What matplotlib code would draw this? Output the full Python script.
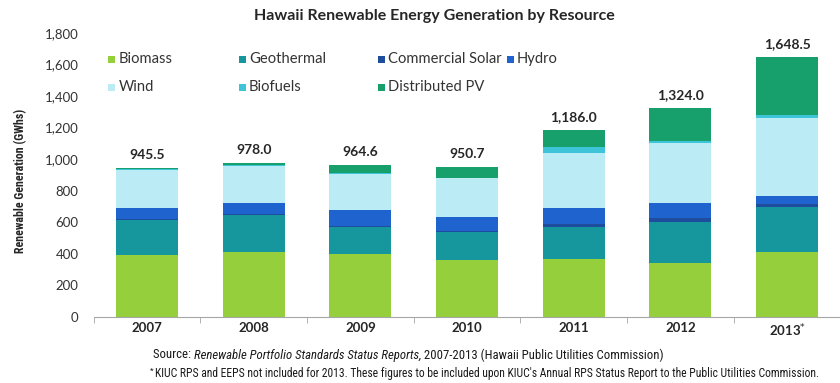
import numpy as np
import matplotlib
matplotlib.use("Agg")
import matplotlib.pyplot as plt
from matplotlib import font_manager

# GWh by resource, stacked bottom to top
years = ["2007", "2008", "2009", "2010", "2011", "2012", "2013$^{*}$"]
biomass = [390, 411, 397, 359, 363, 342, 412]
geothermal = [223, 233, 173, 179, 207, 260, 285]
commercial_solar = [5, 5, 6, 8, 15, 25, 20]
hydro = [73, 74, 100, 84, 102, 92, 50]
wind = [239, 232, 232, 247, 349, 385, 491]
biofuels = [5, 5, 5, 5, 38, 12, 21]
distributed_pv = [10.5, 18, 51.6, 68.7, 112, 208, 369.5]
totals = ["945.5", "978.0", "964.6", "950.7", "1,186.0", "1,324.0", "1,648.5"]

series = [
    ("Biomass", biomass, "#96CF3C"),
    ("Geothermal", geothermal, "#16979E"),
    ("Commercial Solar", commercial_solar, "#1E4D9E"),
    ("Hydro", hydro, "#1F63CF"),
    ("Wind", wind, "#BBEBF5"),
    ("Biofuels", biofuels, "#3DC4D8"),
    ("Distributed PV", distributed_pv, "#17A06C"),
]


def pick_font(names):
    for n in names:
        try:
            font_manager.findfont(n, fallback_to_default=False)
            return n
        except ValueError:
            pass
    return None


narrow_name = pick_font(["Liberation Sans Narrow", "Roboto Condensed",
                         "Open Sans Condensed", "DejaVu Sans Condensed"])
if narrow_name is None:
    narrow_name = "Liberation Sans"
    scale = 0.88
else:
    scale = 1.0
narrow = [narrow_name, "DejaVu Sans"]

plt.rcParams["font.family"] = ["Lato", "DejaVu Sans"]

fig = plt.figure(figsize=(8.4, 3.83), dpi=100)
ax = fig.add_axes([0.1115, 0.1736, 0.889, 0.740])

x = np.arange(len(years))
bottom = np.zeros(len(years))
for name, vals, color in series:
    ax.bar(x, vals, width=0.58, bottom=bottom, color=color, edgecolor="none")
    bottom += np.array(vals)

for xi, top, lab in zip(x, bottom, totals):
    ax.annotate(lab, (xi, top), xytext=(0, 5), textcoords="offset points",
                ha="center", va="bottom", fontsize=10, fontweight="bold",
                color="#262626")

ax.set_xlim(-0.5, len(years) - 0.5)
ax.set_ylim(0, 1800)
ax.set_yticks(np.arange(0, 1801, 200))
ax.set_yticklabels([f"{v:,}" for v in range(0, 1801, 200)])
ax.set_xticks(x)
ax.set_xticklabels(years, fontweight="bold")
ax.set_xticks(np.arange(-0.5, len(years)), minor=True)

for side in ["left", "right", "top"]:
    ax.spines[side].set_visible(False)
ax.spines["bottom"].set_color("#A6A6A6")
ax.tick_params(axis="y", length=0, pad=11, labelsize=9.5, labelcolor="#333333")
ax.tick_params(axis="x", which="major", length=0, pad=4, labelsize=9.5,
               labelcolor="#262626")
ax.tick_params(axis="x", which="minor", length=4, color="#A6A6A6")

ax.set_ylabel("Renewable Generation (GWhs)", fontsize=8.6 * scale,
              fontweight="bold", color="#262626", family=narrow)
ax.yaxis.set_label_coords(-0.089, 0.48)

fig.text(0.517, 0.958, "Hawaii Renewable Energy Generation by Resource",
         ha="center", va="center", fontsize=11.5, fontweight="bold",
         color="#262626")

# legend laid out in two rows
legend_pos = [(112, 59), (242, 59), (381, 59), (510, 59),
              (112, 87), (242, 87), (381, 87)]
for (name, vals, color), (px, py) in zip(series, legend_pos):
    fx, fy = px / 840, 1 - py / 383
    fig.patches.append(plt.Rectangle((fx - 3.5 / 840, fy - 3.5 / 383),
                                     7 / 840, 7 / 383, transform=fig.transFigure,
                                     facecolor=color, edgecolor="none"))
    fig.text(fx + 7 / 840, fy, name, ha="left", va="center", fontsize=10.6,
             color="#333333")

# footer, built from pieces so the italic title sits inline
renderer = fig.canvas.get_renderer()
inv = fig.transFigure.inverted()


def chain(x0, y0, pieces, size):
    xc = x0
    for txt, style in pieces:
        t = fig.text(xc, y0, txt, ha="left", va="center", fontsize=size,
                     style=style, color="#1a1a1a", family=narrow)
        bb = t.get_window_extent(renderer)
        xc = inv.transform((bb.x1, bb.y0))[0]
    return xc


chain(153 / 840, 1 - 355 / 383,
      [("Source: ", "normal"),
       ("Renewable Portfolio Standards Status Reports,", "italic"),
       (" 2007-2013 (Hawaii Public Utilities Commission)", "normal")],
      9.2 * scale)
fig.text(150 / 840, 1 - 371 / 383, "*", ha="left", va="center",
         fontsize=6 * scale, color="#1a1a1a", family=narrow)
fig.text(155 / 840, 1 - 374 / 383,
         "KIUC RPS and EEPS not included for 2013. These figures to be "
         "included upon KIUC's Annual RPS Status Report to the Public Utilities "
         "Commission.",
         ha="left", va="center", fontsize=8.35 * scale, color="#1a1a1a",
         family=narrow)

fig.savefig("out.png", dpi=100, facecolor="white")
